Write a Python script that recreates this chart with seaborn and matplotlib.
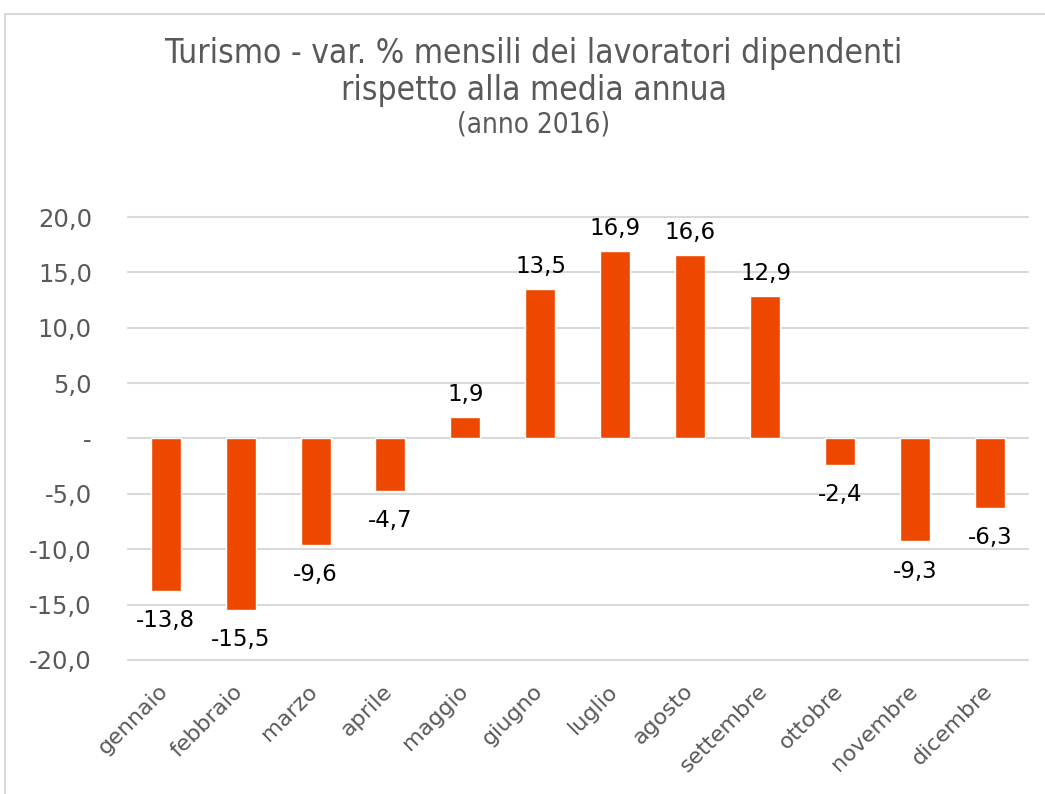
import numpy as np
import pandas as pd
import matplotlib
matplotlib.use("Agg")
import matplotlib.pyplot as plt
import matplotlib.transforms as mtransforms
import seaborn as sns
from matplotlib.patches import Rectangle

mesi = ['gennaio', 'febbraio', 'marzo', 'aprile', 'maggio', 'giugno',
        'luglio', 'agosto', 'settembre', 'ottobre', 'novembre', 'dicembre']
variazioni = [-13.8, -15.5, -9.6, -4.7, 1.9, 13.5, 16.9, 16.6, 12.9, -2.4, -9.3, -6.3]
y_ticks = [-20, -15, -10, -5, 0, 5, 10, 15, 20]

df = pd.DataFrame({'mese': mesi, 'var': variazioni})

sns.set_style("white")
plt.rcParams['font.family'] = ['DejaVu Sans']

grigio = '#595959'
arancio = '#EE4800'

fig = plt.figure(figsize=(10.45, 7.94), dpi=100)
ax = fig.add_axes([0.1225, 0.1688, 0.8612, 0.5579])

sns.barplot(data=df, x='mese', y='var', color=arancio, width=0.4,
            saturation=1, ax=ax, zorder=3)

ax.set_ylim(-20, 20)
ax.set_xlim(-0.5, 11.5)
ax.set_yticks(y_ticks)
ax.set_yticklabels(['-' if v == 0 else f'{v:.1f}'.replace('.', ',') for v in y_ticks],
                   fontsize=17.5, color=grigio)
ax.tick_params(axis='y', length=0, pad=26)
ax.tick_params(axis='x', length=0, pad=15)
ax.set_xticks(range(len(mesi)))
ax.set_xticklabels(mesi, rotation=45, ha='right', rotation_mode='anchor',
                   fontsize=16, color=grigio)
# small shift so the rotated labels sit like in the original
shift = mtransforms.ScaledTranslation(-8 / 100, 0, fig.dpi_scale_trans)
for lab in ax.get_xticklabels():
    lab.set_transform(lab.get_transform() + shift)
ax.set_xlabel('')
ax.set_ylabel('')
for s in ax.spines.values():
    s.set_visible(False)
ax.yaxis.grid(True, color='#D9D9D9', linewidth=1.5, zorder=0)
for gl in ax.get_ygridlines():
    gl.set_clip_on(False)
ax.set_axisbelow(True)

for i, v in enumerate(variazioni):
    lab = f'{v:.1f}'.replace('.', ',')
    if v >= 0:
        ax.annotate(lab, (i, v), xytext=(0, 8), textcoords='offset points',
                    ha='center', va='bottom', fontsize=16.5, color='black')
    else:
        ax.annotate(lab, (i, v), xytext=(0, -13), textcoords='offset points',
                    ha='center', va='top', fontsize=16.5, color='black')

fig.text(0.511, 1 - 63 / 794, 'Turismo - var. % mensili dei lavoratori dipendenti',
         ha='center', va='baseline', fontsize=24, color=grigio, fontstretch='condensed')
fig.text(0.511, 1 - 100 / 794, 'rispetto alla media annua',
         ha='center', va='baseline', fontsize=24, color=grigio, fontstretch='condensed')
fig.text(0.511, 1 - 133 / 794, '(anno 2016)',
         ha='center', va='baseline', fontsize=20, color=grigio, fontstretch='condensed')

fig.patches.append(Rectangle((5 / 1045, -0.05), 1.2, 1 - 14 / 794 + 0.05,
                             transform=fig.transFigure, fill=False,
                             edgecolor='#D9D9D9', linewidth=1.5))

fig.savefig('out.png', dpi=100)
